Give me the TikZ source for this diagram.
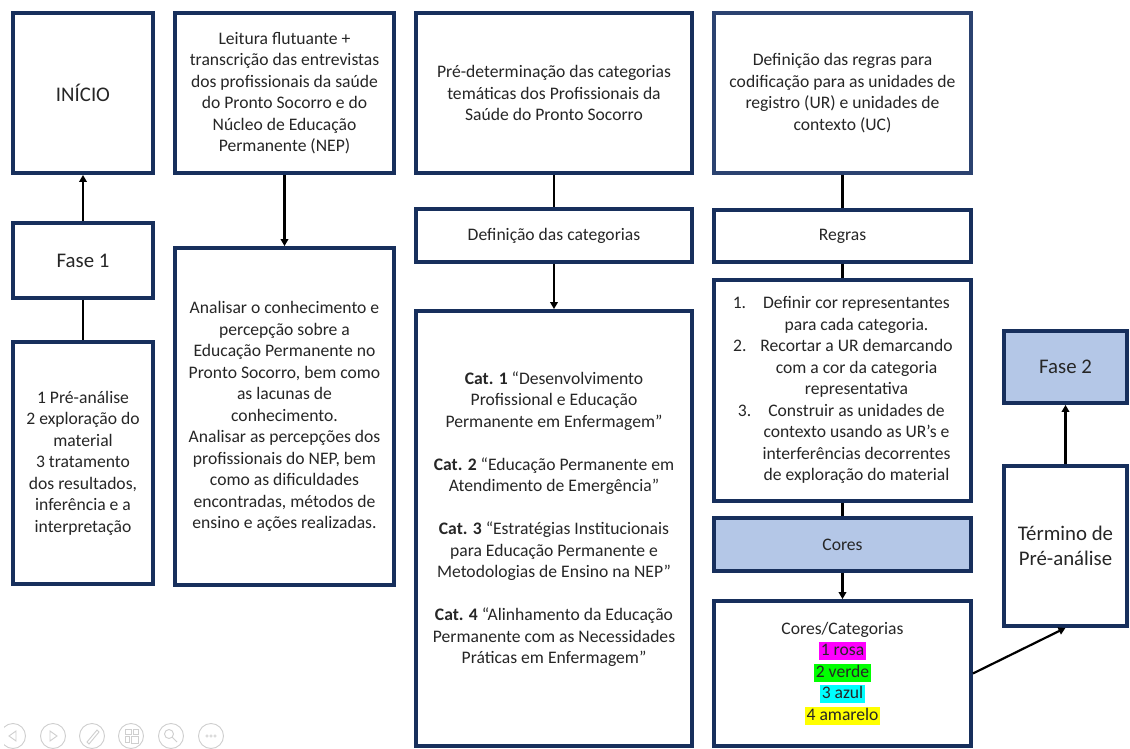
\documentclass[tikz,border=0pt]{standalone}
\usepackage{fontspec}
\setmainfont{Carlito}
\usetikzlibrary{arrows.meta}
\definecolor{navy}{HTML}{172F5C}
\definecolor{slate}{HTML}{2B4270}
\definecolor{lblue}{HTML}{B4C7E7}
\definecolor{txt}{HTML}{262626}
\definecolor{hlpink}{HTML}{FF00FF}
\definecolor{hlgreen}{HTML}{00FF00}
\definecolor{hlcyan}{HTML}{00FFFF}
\definecolor{hlyellow}{HTML}{FFFF00}
\definecolor{icon}{HTML}{CFCFCF}
\newcommand\hlbox[2]{{\setlength\fboxsep{0pt}\colorbox{#1}{\rule[-0.26em]{0pt}{1.02em}\kern1.5pt #2\kern1.5pt}}}
\begin{document}
\begin{tikzpicture}[x=1pt,y=-1pt,
  box/.style={draw=navy, line width=3.8pt, fill=white, align=center, inner sep=2pt,
    text=txt, font=\fontsize{17.6}{21.5}\selectfont},
  big/.style={font=\fontsize{20.8}{25}\selectfont},
  blue/.style={fill=lblue},
  link/.style={line width=2.2pt, draw=black},
  arr/.style={link, -{Triangle[length=7pt,width=7.5pt]}},
  ico/.style={draw=icon, line width=0.9pt}]
\useasboundingbox[fill=white] (0,0) rectangle (1130,749);

% column 1
\node[box,big,minimum width=140,minimum height=160] (inicio) at (83,93) {INÍCIO};
\node[box,big,minimum width=140,minimum height=75] (fase1) at (83,260.5) {Fase 1};
\node[box,minimum width=140,minimum height=242] (pre) at (83,463)
  {1 Pré-análise\\2 exploração do\\material\\3 tratamento\\dos resultados,\\inferência e a\\interpretação};

% column 2
\node[box,minimum width=219,minimum height=160] (leitura) at (284.5,93)
  {Leitura flutuante +\\transcrição das entrevistas\\dos profissionais da saúde\\do Pronto Socorro e do\\Núcleo de Educação\\Permanente (NEP)};
\node[box,minimum width=219,minimum height=337] (analisar) at (284.5,416.5)
  {Analisar o conhecimento e\\percepção sobre a\\Educação Permanente no\\Pronto Socorro, bem como\\as lacunas de\\conhecimento.\\Analisar as percepções dos\\profissionais do NEP, bem\\como as dificuldades\\encontradas, métodos de\\ensino e ações realizadas.};

% column 3
\node[box,minimum width=276,minimum height=160] (predet) at (554,93)
  {Pré-determinação das categorias\\temáticas dos Profissionais da\\Saúde do Pronto Socorro};
\node[box,minimum width=276,minimum height=53] (defcat) at (554,235.5) {Definição das categorias};
\node[box,minimum width=276,minimum height=435] (cats) at (554,528.5)
  {\raisebox{9pt}[\height][\depth]{\begin{tabular}{@{}c@{}}
   \textbf{Cat. 1} “Desenvolvimento\\Profissional e Educação\\Permanente em Enfermagem”\\[21.5pt]
   \textbf{Cat. 2} “Educação Permanente em\\Atendimento de Emergência”\\[21.5pt]
   \textbf{Cat. 3} “Estratégias Institucionais\\para Educação Permanente e\\Metodologias de Ensino na NEP”\\[21.5pt]
   \textbf{Cat. 4} “Alinhamento da Educação\\Permanente com as Necessidades\\Práticas em Enfermagem”
  \end{tabular}}};

% column 4
\node[box,draw=slate,minimum width=257,minimum height=160] (defreg) at (842.5,93)
  {Definição das regras para\\codificação para as unidades de\\registro (UR) e unidades de\\contexto (UC)};
\node[box,minimum width=257,minimum height=52] (regras) at (842.5,236) {Regras};
\node[box,minimum width=257,minimum height=221] (rules) at (842.5,390.5)
  {\begin{tabular}{@{\hspace{28pt}}c@{}}
   \llap{1.\hspace{17pt}}Definir cor representantes\\para cada categoria.\\
   \llap{2.\hspace{14pt}}Recortar a UR demarcando\\com a cor da categoria\\representativa\\
   \llap{3.\hspace{17pt}}Construir as unidades de\\contexto usando as UR’s e\\interferências decorrentes\\de exploração do material
   \end{tabular}};
\node[box,blue,minimum width=257,minimum height=53] (cores) at (842.5,544.5) {Cores};
\node[box,minimum width=257,minimum height=145] (corescat) at (842.5,673.5)
  {Cores/Categorias\\\hlbox{hlpink}{1 rosa}\\\hlbox{hlgreen}{2 verde}\\\hlbox{hlcyan}{3 azul}\\\hlbox{hlyellow}{4 amarelo}};

% column 5
\node[box,blue,big,minimum width=123,minimum height=72] (fase2) at (1065.5,367) {Fase 2};
\node[box,big,minimum width=123,minimum height=160] (termino) at (1065.5,546) {Término de\\Pré-análise};

% connectors
\draw[arr] (fase1.north) -- (inicio.south);
\draw[link] (fase1.south) -- (pre.north);
\draw[arr] (leitura.south) -- (analisar.north);
\draw[link] (predet.south) -- (defcat.north);
\draw[arr] (defcat.south) -- (cats.north);
\draw[link] (defreg.south) -- (regras.north);
\draw[link] (regras.south) -- (rules.north);
\draw[link] (rules.south) -- (cores.north);
\draw[arr] (cores.south) -- (corescat.north);
\draw[arr] (termino.north) -- (fase2.south);
\draw[arr] (corescat.east) -- (termino.south);

% presentation controls (faint)
\begin{scope}
\clip (4,700) rectangle (240,749);
\draw[ico] (13,736) circle (12.5);
\draw[ico] (16,731) -- (9,736) -- (16,741) -- cycle;
\end{scope}
\draw[ico] (53,736) circle (12.5);
\draw[ico] (50,731) -- (57,736) -- (50,741) -- cycle;
\draw[ico] (92,736) circle (12.5);
\draw[ico] (87,742) -- (97,730) -- (99,732) -- (89,744) -- cycle;
\draw[ico] (131,736) circle (12.5);
\draw[ico] (125,729) rectangle (131,734) (125,736) rectangle (129,742) (131,736) rectangle (138,743) (133,729) rectangle (138,734);
\draw[ico] (171,736) circle (12.5);
\draw[ico] (169,734) circle (4.5) (172,737) -- (177,742);
\draw[ico] (211,736) circle (12.5);
\draw[ico,line width=0.6pt] (207,736) circle (1.3) (211,736) circle (1.3) (215,736) circle (1.3);
\end{tikzpicture}
\end{document}
